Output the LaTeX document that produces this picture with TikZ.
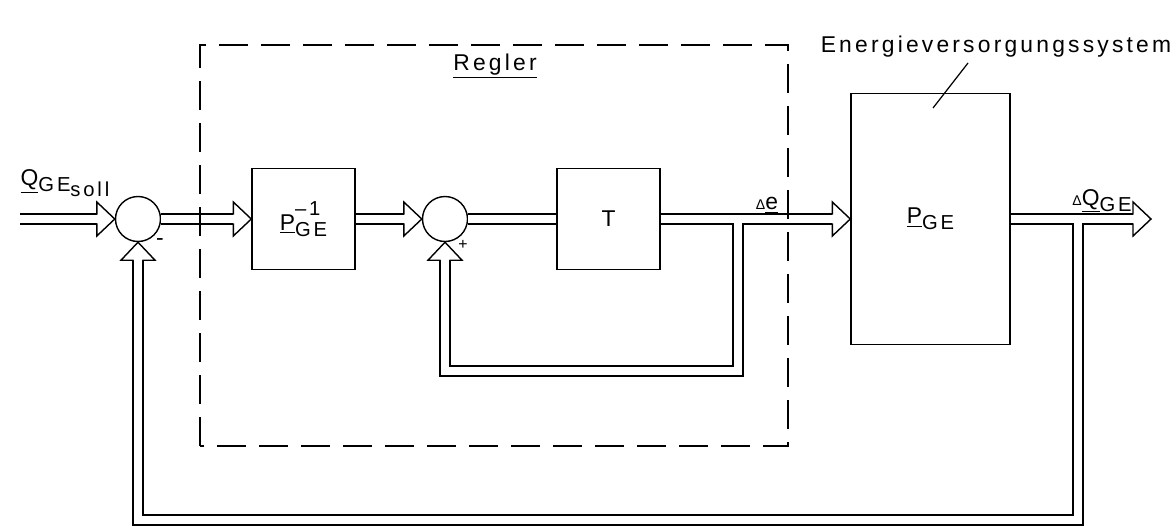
\documentclass[tikz,border=0pt]{standalone}
\usepackage{fontspec}
\setmainfont{Liberation Sans}[LetterSpace=14]
\usetikzlibrary{calc}

\newcommand{\lo}[1]{\raisebox{-0.5ex}{\fontsize{11.5}{13}\selectfont #1}}
\newcommand{\hi}[1]{\makebox[0pt][l]{\raisebox{1.2ex}{\fontsize{11.5}{13}\selectfont #1}}}

\tikzset{
  pics/hollowhead/.style={code={
    \filldraw[fill=white, line width=0.8pt, line join=miter, line cap=butt]
      (-0.36,0.086) -- (-0.36,0.34) -- (0,0) -- (-0.36,-0.34) -- (-0.36,-0.086);
  }}
}

\begin{document}
\begin{tikzpicture}[
  line cap=butt,
  every node/.style={font=\fontsize{13}{15}\selectfont},
  block/.style={draw, line width=0.8pt, minimum width=2.06cm, minimum height=2.02cm, inner sep=0pt},
  summer/.style={draw, circle, line width=0.8pt, minimum size=0.9cm, inner sep=0pt},
  bus/.style={double, double distance=0.172cm, line width=0.8pt, line join=miter},
  frame/.style={line width=1.1pt, dash pattern=on 0.58cm off 0.26cm}
]
  \useasboundingbox (0,0) rectangle (23.48,10.58);

  % Blocks and summing points
  \node[summer] (sumA) at (2.76,6.2) {};
  \node[block] (Pinv) at (6.07,6.2) {\underline{P}\hi{–1}\lo{GE}};
  \node[summer] (sumB) at (8.9,6.2) {};
  \node[block] (T) at (12.17,6.2) {T};
  \node[block, minimum width=3.18cm, minimum height=5.02cm] (PGE) at (18.61,6.2)
    {\underline{P}\lo{GE}};

  \coordinate (in) at (0.4,6.2);
  \coordinate (out) at (23.02,6.2);
  \coordinate (tapT) at (14.76,6.2);
  \coordinate (tapP) at (21.56,6.2);
  \coordinate (loopB) at (8.9,3.16);
  \coordinate (loopA) at (2.76,0.18);

  % Forward path
  \draw[bus, shorten >=0.36cm] (in) -- (sumA.west);
  \pic at (sumA.west) {hollowhead};
  \draw[bus, shorten >=0.36cm] (sumA.east) -- (Pinv.west);
  \pic at (Pinv.west) {hollowhead};
  \draw[bus, shorten >=0.36cm] (Pinv.east) -- (sumB.west);
  \pic at (sumB.west) {hollowhead};
  \draw[bus] (sumB.east) -- (T.west);
  \draw[bus, shorten >=0.36cm] (T.east) -- (PGE.west);
  \pic at (PGE.west) {hollowhead};
  \draw[bus, shorten >=0.36cm] (PGE.east) -- (out);
  \pic at (out) {hollowhead};

  % Inner feedback (+)
  \draw[bus, shorten >=0.36cm] ($(tapT)+(0,-0.086)$) |- (loopB) -- (sumB.south);
  \pic[rotate=90] at (sumB.south) {hollowhead};

  % Outer feedback (-)
  \draw[bus, shorten >=0.36cm] ($(tapP)+(0,-0.086)$) |- (loopA) -- (sumA.south);
  \pic[rotate=90] at (sumA.south) {hollowhead};

  % Controller frame
  \draw[frame] (4.0,1.66) rectangle (15.76,9.68);

  % Labels
  \node (regler) at (9.9,9.26) {\underline{Regler}};
  \node (soll) at (1.3,6.92) {\underline{Q}\lo{GE\lo{soll}}};
  \node (minus) at (3.2,5.74) {-};
  \node (plus) at (9.26,5.68) {\small +};
  \node (de) at (15.34,6.48) {{\footnotesize Δ}\underline{e}};
  \node (dq) at (22.04,6.56) {{\footnotesize Δ}\underline{Q}\lo{GE}};
  \node (evs) at (19.92,9.64) {Energieversorgungssystem};
  \coordinate (leadA) at (19.36,9.32);
  \coordinate (leadB) at (18.66,8.42);
  \draw[line width=0.7pt] (leadA) -- (leadB);
\end{tikzpicture}
\end{document}
